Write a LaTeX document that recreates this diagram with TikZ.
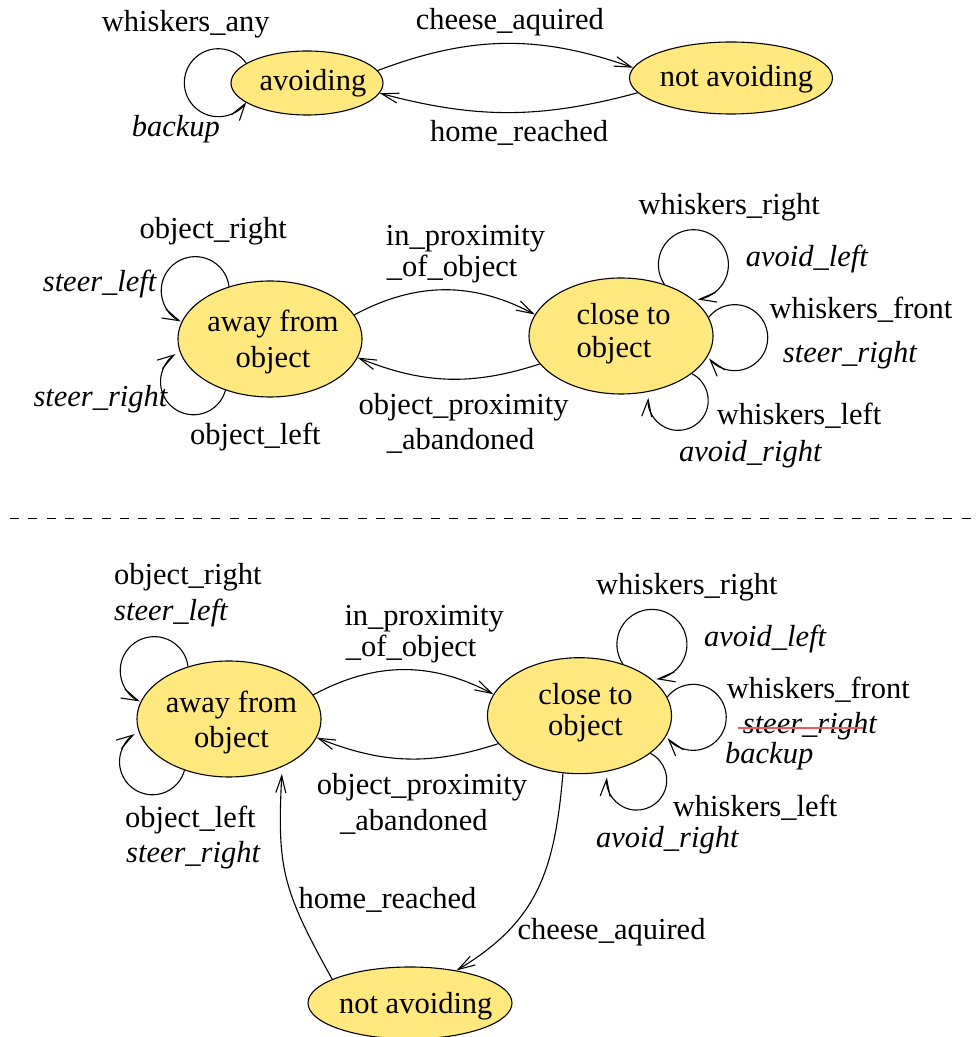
\documentclass[tikz,border=0pt]{standalone}
\usepackage{fontspec}
\setmainfont{Liberation Serif}
\usetikzlibrary{shapes.geometric,arrows.meta}
\definecolor{statefill}{RGB}{255,232,125}
\definecolor{strikered}{RGB}{238,90,90}
\begin{document}
\begin{tikzpicture}[x=1pt,y=1pt,
  txt/.style={font=\fontsize{30.5}{36}\selectfont, inner sep=0pt},
  cond/.style={txt, anchor=base west},
  act/.style={cond, font=\fontsize{30.5}{36}\selectfont\itshape},
  inner/.style={txt, align=center},
  state/.style={ellipse, draw, line width=1.1pt, fill=statefill, inner sep=0pt,
    minimum width=184pt, minimum height=116pt},
  trans/.style={line width=1.1pt, -{Straight Barb[length=17pt,width=10pt]}},
]
\useasboundingbox (0,0) rectangle (978,1037);

% ---------------- simple two-state machine ----------------
\node[state, minimum width=152pt, minimum height=64pt,
  label={[inner, xshift=6pt]center:avoiding}] (av) at (307,954) {};
\node[state, minimum width=203pt, minimum height=72pt,
  label={[inner, xshift=5.5pt, yshift=-1.6pt]center:not avoiding}] (na1) at (731,959) {};

\draw[trans] (av.162) arc[start angle=35, end angle=325, radius=34pt];
\draw[trans] (av.10) to[bend left=20] (na1.174);
\draw[trans] (na1.189) to[bend left=15] (av.352);

\node[cond] (t1) at (101.7,1005.3) {whiskers\_any};
\node[act]  (t2) at (131.7,900) {backup};
\node[cond] (t3) at (415.7,1007.7) {cheese\_aquired};
\node[cond] (t4) at (430,895.3) {home\_reached};

% ---------------- avoidance behaviour ----------------
\node[state, label={[inner, xshift=3pt, yshift=-2.6pt]center:{away from\\object}}] (aw1) at (270,698) {};
\node[state, label={[txt, align=left, xshift=2.7pt, yshift=2.4pt]center:{close to\\[-3pt]object}}] (cl1) at (621,701) {};

\draw[trans] (aw1.128) arc[start angle=7, end angle=245, radius=34pt];
\draw[trans] (aw1.229) arc[start angle=-15, end angle=-237, radius=33pt];
\draw[trans] (cl1.50) arc[start angle=214, end angle=-83, radius=35pt];
\draw[trans] (cl1.12) arc[start angle=142, end angle=-141, radius=33pt];
\draw[trans] (cl1.332) arc[start angle=63, end angle=-185, radius=30pt];
\draw[trans] (aw1.16) to[bend left=28] (cl1.166);
\draw[trans] (cl1.199) to[bend left=20] (aw1.348);

\node[cond] (m1) at (139.3,798.7) {object\_right};
\node[act]  (m2) at (42.7,745.3) {steer\_left};
\node[act]  (m3) at (33.3,630.3) {steer\_right};
\node[cond] (m4) at (190,592) {object\_left};
\node[cond] (m5) at (385.7,791) {in\_proximity};
\node[cond] (m6) at (386.7,760.3) {\_of\_object};
\node[cond] (m7) at (358.3,622) {object\_proximity};
\node[cond] (m8) at (386.7,587) {\_abandoned};
\node[cond] (m9) at (638.3,822) {whiskers\_right};
\node[act]  (m10) at (745.7,770.3) {avoid\_left};
\node[cond] (m11) at (769.3,718.7) {whiskers\_front};
\node[act]  (m12) at (782.7,674.3) {steer\_right};
\node[cond] (m13) at (716.7,612) {whiskers\_left};
\node[act]  (m14) at (679,575.3) {avoid\_right};

% ---------------- separator ----------------
\draw[line width=1.1pt, dash pattern=on 9pt off 9.3pt] (10,518.7) -- (978,518.7);

% ---------------- combined machine ----------------
\node[state, label={[inner, xshift=2.5pt, yshift=-3.1pt]center:{away from\\[-1pt]object}}] (aw2) at (229,318) {};
\node[state, label={[inner, xshift=6pt, yshift=3.1pt]center:{close to\\[-5pt]object}}] (cl2) at (579.5,321.3) {};
\node[state, minimum width=204pt, minimum height=72pt,
  label={[inner, xshift=5.8pt, yshift=-3.2pt]center:not avoiding}] (na2) at (410,34) {};

\draw[trans] (aw2.128) arc[start angle=7, end angle=245, radius=34pt];
\draw[trans] (aw2.229) arc[start angle=-15, end angle=-237, radius=33pt];
\draw[trans] (cl2.50) arc[start angle=214, end angle=-83, radius=35pt];
\draw[trans] (cl2.12) arc[start angle=142, end angle=-141, radius=33pt];
\draw[trans] (cl2.332) arc[start angle=63, end angle=-185, radius=30pt];
\draw[trans] (aw2.16) to[bend left=28] (cl2.166);
\draw[trans] (cl2.199) to[bend left=20] (aw2.348);
\draw[trans] (cl2.254) to[out=-95, in=31, looseness=1.1] (na2.35);
\draw[trans, shorten >=7pt] (na2.163) to[out=119, in=-93, looseness=1.2] (aw2.318);

\node[cond] (b1) at (114,452) {object\_right};
\node[act]  (b2) at (114,416.3) {steer\_left};
\node[cond] (b3) at (125,209.7) {object\_left};
\node[act]  (b4) at (126,174.3) {steer\_right};
\node[cond] (b5) at (344.3,411) {in\_proximity};
\node[cond] (b6) at (345.7,380.3) {\_of\_object};
\node[cond] (b7) at (316.7,242) {object\_proximity};
\node[cond] (b8) at (340,206.3) {\_abandoned};
\node[cond] (b9) at (596,442) {whiskers\_right};
\node[act]  (b10) at (704,390.3) {avoid\_left};
\node[cond] (b11) at (726.7,338.7) {whiskers\_front};
\node[act]  (b12) at (742.7,303.7) {steer\_right};
\node[act]  (b13) at (725,273) {backup};
\node[cond] (b14) at (672.7,220.3) {whiskers\_left};
\node[act]  (b15) at (596,189.7) {avoid\_right};
\node[cond] (b16) at (298.3,128.7) {home\_reached};
\node[cond] (b17) at (517.3,97) {cheese\_aquired};

% struck-out action
\draw[strikered, line width=2pt] ([shift={(-4.7,5.3)}]b12.base west) -- ([shift={(120.3,5.3)}]b12.base west);
\end{tikzpicture}
\end{document}
